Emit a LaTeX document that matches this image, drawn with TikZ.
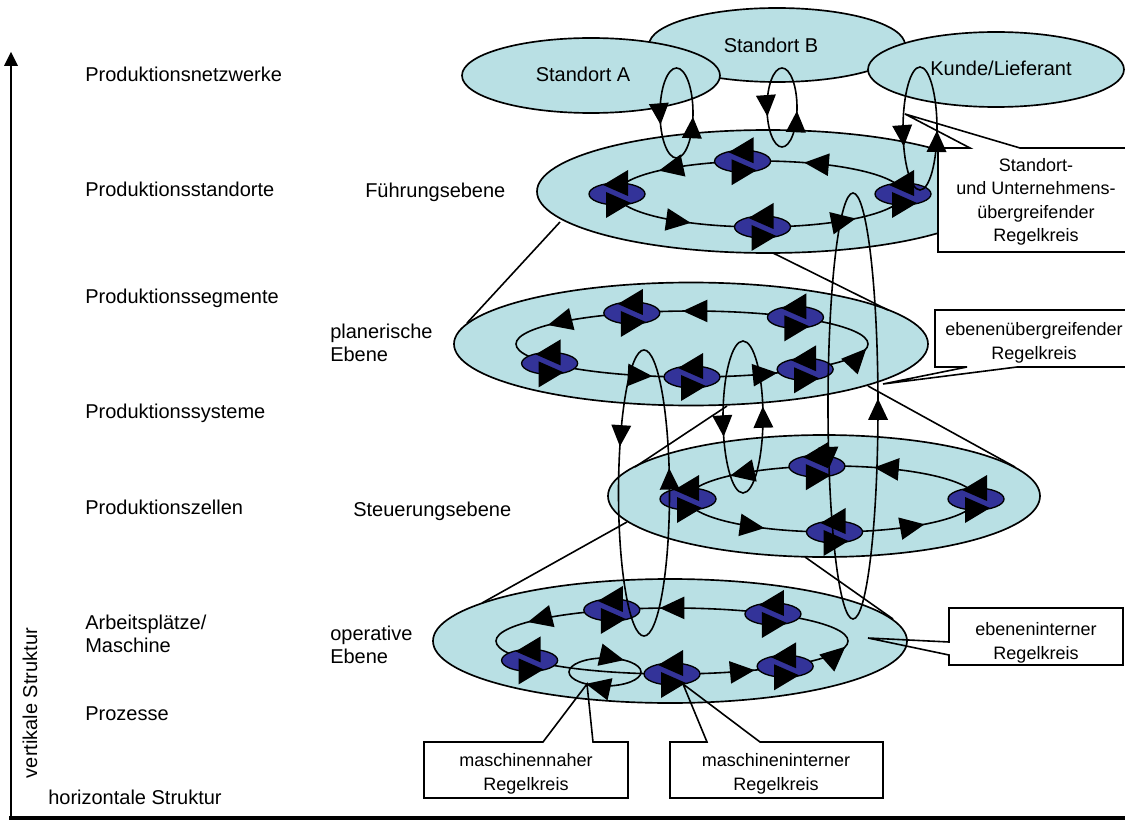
\documentclass[tikz,border=0pt]{standalone}
\usepackage{fontspec}
\setmainfont{Liberation Sans}
\usetikzlibrary{calc}

\definecolor{levelfill}{RGB}{185,224,228}
\definecolor{ctrlblue}{RGB}{51,51,153}

% size of the arrow heads on the tracks
\newlength\fhlen \setlength\fhlen{16pt}
\newlength\fhwid \setlength\fhwid{7.5pt}

% filled arrow head on an elliptic track:
% centre, x radius, y radius, angle of the tip, nearby angle behind the tip
\newcommand\flowhead[5]{%
  \path (#1) ++(#4:#2 and #3) coordinate (fhP);
  \path (#1) ++(#5:#2 and #3) coordinate (fhQ);
  \coordinate (fhB) at ($(fhP)!\fhlen!(fhQ)$);
  \fill ($(fhB)!\fhwid!90:(fhP)$) -- (fhP) -- ($(fhB)!\fhwid!-90:(fhP)$) -- cycle;}

\begin{document}
\begin{tikzpicture}[
  x=0.75pt, y=-0.75pt,
  lbl/.style={font=\fontsize{15}{17.25}\selectfont, inner sep=0pt},
  calltext/.style={font=\fontsize{13.5}{17.5}\selectfont, inner sep=0pt, align=center},
  site/.style={draw, fill=levelfill, line width=1.25pt},
  level/.style={draw, fill=levelfill, line width=1.25pt},
  track/.style={draw, line width=1.2pt},
  persp/.style={draw, line width=1.2pt},
  callbg/.style={fill=white},
  callline/.style={draw, line width=1.2pt, line join=miter},
  ctrl/.pic={
    \path[draw=black, fill=ctrlblue, line width=1pt] (0,0) ellipse[x radius=28, y radius=11];
    \fill (-14,-9) -- (11,-24) -- (11,2) -- cycle;
    \fill (14,9) -- (-11,24) -- (-11,-2) -- cycle;
  }
]
\useasboundingbox (0,0) rectangle (1125,820);

% axes
\coordinate (origin) at (11,818);
\coordinate (vtop) at (11,52);
\coordinate (hend) at (1130,818);
\draw[line width=2.2pt, shorten >=8pt] (origin) -- (vtop);
\fill (vtop) -- ++(-7,14) -- ++(14,0) -- cycle;
\draw[line width=3pt] ([xshift=-1.5pt]origin) -- (hend);
\node[lbl, rotate=90] (vert) at (30,703) {vertikale Struktur};
\node[lbl, anchor=base west] (horiz) at (48,804) {horizontale Struktur};

% structure levels on the left
\node[lbl, anchor=base west] (pnet) at (85,82) {Produktionsnetzwerke};
\node[lbl, anchor=base west] (pstd) at (85,197) {Produktionsstandorte};
\node[lbl, anchor=base west] (pseg) at (85,303) {Produktionssegmente};
\node[lbl, anchor=base west] (psys) at (85,418) {Produktionssysteme};
\node[lbl, anchor=base west] (pzel) at (85,514) {Produktionszellen};
\node[lbl, anchor=west, align=left] (parb) at (85,634) {Arbeitsplätze/\\Maschine};
\node[lbl, anchor=base west] (pproz) at (85,720) {Prozesse};

% planning levels
\node[lbl, anchor=base west] (efue) at (365,198) {Führungsebene};
\node[lbl, anchor=west, align=left] (epla) at (330,343) {planerische\\Ebene};
\node[lbl, anchor=base west] (este) at (353,516) {Steuerungsebene};
\node[lbl, anchor=west, align=left] (eope) at (330,645) {operative\\Ebene};

% network partners
\path[site] (777,45) ellipse[x radius=128, y radius=37];
\path[site] (591,75.5) ellipse[x radius=129, y radius=37.5];
\path[site] (996,69.5) ellipse[x radius=128, y radius=37.5];
\node[lbl, anchor=base] (sa) at (583,82) {Standort A};
\node[lbl, anchor=base] (sb) at (771,53) {Standort B};
\node[lbl, anchor=base] (kl) at (1001,76) {Kunde/Lieferant};

% level discs
\path[level] (768,191.5) ellipse[x radius=231, y radius=61.5];
\path[level] (691,344) ellipse[x radius=237, y radius=61.5];
\path[level] (824,496) ellipse[x radius=216, y radius=61];
\path[level] (670,641) ellipse[x radius=237, y radius=62];

% perspective lines between the levels
\draw[persp] (560,222) -- (467,323);
\draw[persp] (773,253) -- (888,310);
\draw[persp] (727,406) -- (635,467);
\draw[persp] (868,386) -- (1015,467);
\draw[persp] (627,522) -- (482,603);
\draw[persp] (805,557) -- (893,619);

% control tracks
\coordinate (r1) at (760,194);
\coordinate (r2) at (692,344);
\coordinate (r3) at (832,499);
\coordinate (r4) at (672,641);
\coordinate (m1) at (605,672);

\setlength\fhlen{18.5pt}\setlength\fhwid{8.5pt}
\path[track] (r1) ellipse[x radius=143, y radius=33];
\foreach \t in {225,288,119,48} {\flowhead{r1}{143}{33}{\t}{\t+4}}
\foreach \t in {180,263,89,0} {\path (r1) ++(\t:143 and 33) pic{ctrl};}

\path[track] (r2) ellipse[x radius=176, y radius=33];
\foreach \t in {215,267,103,61,8} {\flowhead{r2}{176}{33}{\t}{\t+4}}
\foreach \t in {250,306,144,90,50} {\path (r2) ++(\t:176 and 33) pic{ctrl};}

\path[track] (r3) ellipse[x radius=144, y radius=33];
\foreach \t in {225,287,118,50} {\flowhead{r3}{144}{33}{\t}{\t+4}}
\foreach \t in {180,264,89,0} {\path (r3) ++(\t:144 and 33) pic{ctrl};}

\path[track] (r4) ellipse[x radius=176, y radius=33];
\foreach \t in {215,266,62,10} {\flowhead{r4}{176}{33}{\t}{\t+4}}
\path[track] (m1) ellipse[x radius=36, y radius=14];
\flowhead{m1}{36}{14}{302}{298}
\flowhead{m1}{36}{14}{122}{118}
\foreach \t in {250,305,144,90,50} {\path (r4) ++(\t:176 and 33) pic{ctrl};}

% callouts
\fill[callbg] (938,148) rectangle (1134,252);
\draw[callline] (970,148) -- (905,114) -- (1020,148) -- (1134,148) -- (1134,252) -- (938,252) -- (938,148) -- cycle;
\node[calltext] (c1) at (1036,202) {Standort-\\und Unternehmens-\\übergreifender\\Regelkreis};

\fill[callbg] (935,310) rectangle (1134,367);
\draw[callline] (967,367) -- (883,384) -- (1017,367) -- (1134,367) -- (1134,310) -- (935,310) -- (935,367) -- cycle;
\node[calltext] (c2) at (1034,343) {ebenenübergreifender\\Regelkreis};

\fill[callbg] (949,608) rectangle (1123,665);
\draw[callline] (949,642) -- (868,638) -- (949,655) -- (949,665) -- (1123,665) -- (1123,608) -- (949,608) -- cycle;
\node[calltext] (c3) at (1036,643) {ebeneninterner\\Regelkreis};

\fill[callbg] (424,742) rectangle (628,798);
\draw[callline] (543,742) -- (587,684) -- (593,742) -- (628,742) -- (628,798) -- (424,798) -- (424,742) -- cycle;
\node[calltext] (c4) at (526,774) {maschinennaher\\Regelkreis};

\fill[callbg] (670,742) rectangle (883,798);
\draw[callline] (707,742) -- (683,684) -- (760,742) -- (883,742) -- (883,798) -- (670,798) -- (670,742) -- cycle;
\node[calltext] (c5) at (776,774) {maschineninterner\\Regelkreis};

% loops across the levels
\coordinate (la) at (676.5,113);
\coordinate (lb) at (782,107.5);
\coordinate (lk) at (920,128.5);
\coordinate (p1) at (644,493);
\coordinate (p2) at (743,417);
\coordinate (f1) at (853,406);

\setlength\fhlen{16pt}\setlength\fhwid{7.5pt}
\path[track] (la) ellipse[x radius=16.5, y radius=45];
\flowhead{la}{16.5}{45}{165}{170}
\flowhead{la}{16.5}{45}{5}{10}
\path[track] (lb) ellipse[x radius=15, y radius=39.5];
\flowhead{lb}{15}{39.5}{167}{172}
\flowhead{lb}{15}{39.5}{5}{10}
\path[track] (lk) ellipse[x radius=17, y radius=61.5];
\flowhead{lk}{17}{61.5}{163}{167}
\flowhead{lk}{17}{61.5}{2}{6}
\path[track] (p1) ellipse[x radius=25.5, y radius=143];
\flowhead{p1}{25.5}{143}{199}{201}
\flowhead{p1}{25.5}{143}{-10}{-8}
\path[track] (p2) ellipse[x radius=20, y radius=76];
\flowhead{p2}{20}{76}{165}{168}
\flowhead{p2}{20}{76}{-8}{-5}
\path[track] (f1) ellipse[x radius=25, y radius=213];
\flowhead{f1}{25}{213}{163}{164}
\flowhead{f1}{25}{213}{-2}{-1}
\end{tikzpicture}
\end{document}
